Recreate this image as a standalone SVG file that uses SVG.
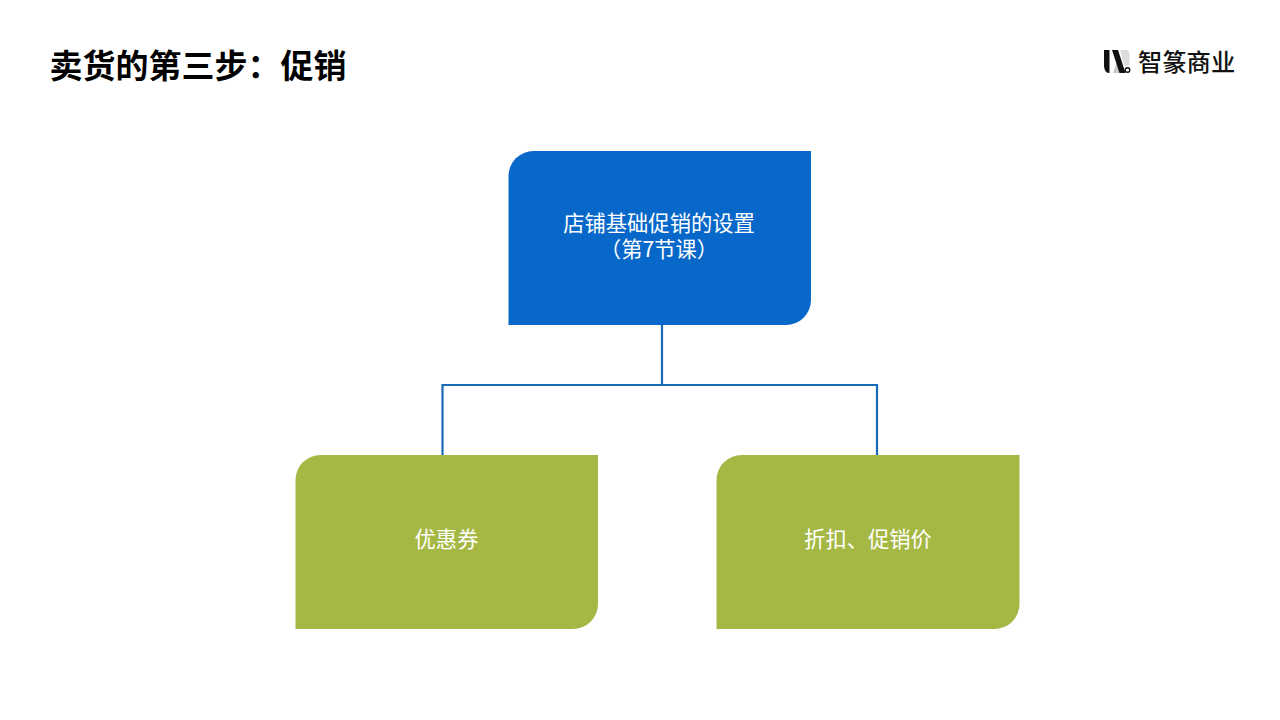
<svg xmlns="http://www.w3.org/2000/svg" width="1280" height="720" viewBox="0 0 1280 720">
<style>
text{font-family:"Noto Sans CJK SC","Liberation Sans",sans-serif}
.t{font-size:21.300px;fill:#fff;text-anchor:middle}
.blue{fill:#0868ca}
.green{fill:#a6b844}
.c{fill:none;stroke:#1a69b4;stroke-width:2.200}
</style>
<rect width="1280" height="720" fill="#fff"/>
<text x="49.500" y="78" font-weight="700" fill="#000" style="font-size:33px">卖货的第三步：促销</text>
<g id="logo">
<path d="M1120 50h6c2 0 3.500 1.500 3.500 4v12h-5z" fill="#dcdcdc"/>
<path d="M1113 73l4-11h4l2 11z" fill="#c9c9c9"/>
<path d="M1104 50h5.500v23h-.5c-3 0-5-3-5-8z" fill="#111"/>
<path d="M1112 50h6l7.500 23h-6z" fill="#111"/>
<circle cx="1127.500" cy="70" r="2.300" fill="#fff" stroke="#111" stroke-width="1.400"/>
<text x="1138" y="71" font-weight="500" fill="#111" style="font-size:24.300px">智篆商业</text>
</g>
<g id="connectors">
<path class="c" d="M662 325V385M442.500 455V385H877V455"/>
</g>
<g id="node-root">
<path class="blue" d="M533.500 151H811V300A25 25 0 0 1 786 325H508.500V176A25 25 0 0 1 533.500 151Z"/>
<text class="t"><tspan x="659" y="231">店铺基础促销的设置</tspan><tspan x="659" y="257">（第7节课）</tspan></text>
</g>
<g id="node-coupon">
<path class="green" d="M320.500 455H598V604A25 25 0 0 1 573 629H295.500V480A25 25 0 0 1 320.500 455Z"/>
<text class="t" x="446.500" y="547">优惠券</text>
</g>
<g id="node-discount">
<path class="green" d="M741.500 455H1019.500V604A25 25 0 0 1 994.500 629H716.500V480A25 25 0 0 1 741.500 455Z"/>
<text class="t" x="868" y="547">折扣、促销价</text>
</g>
</svg>
